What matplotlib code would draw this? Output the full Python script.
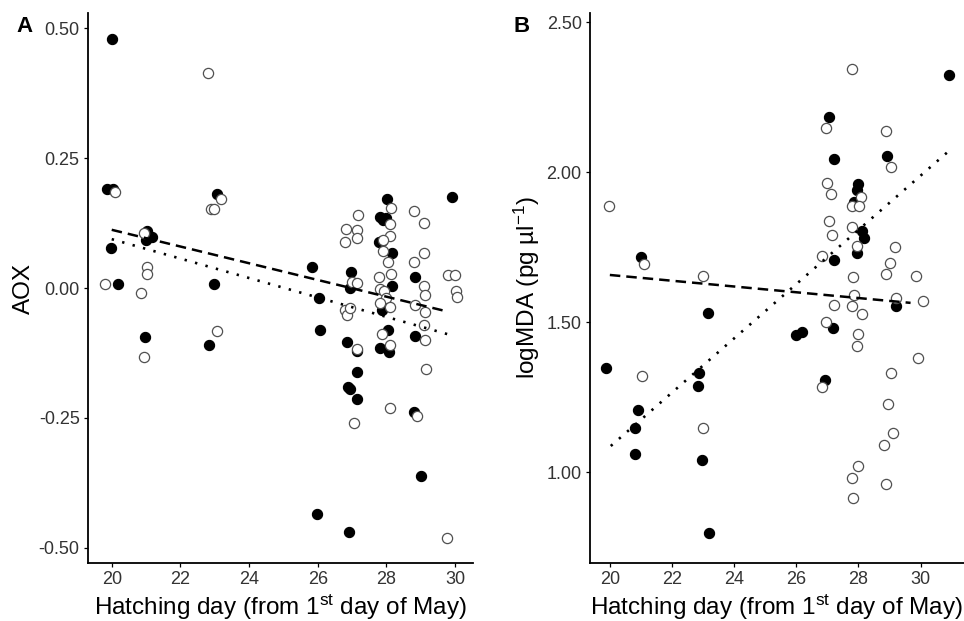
import matplotlib
matplotlib.use("Agg")
import matplotlib.pyplot as plt
from matplotlib.ticker import FormatStrFormatter

plt.rcParams['font.family'] = ['Liberation Sans', 'DejaVu Sans']
plt.rcParams['mathtext.fontset'] = 'custom'
plt.rcParams['mathtext.rm'] = 'Liberation Sans'
plt.rcParams['mathtext.default'] = 'rm'

# ---- panel A: AOX vs hatching day ----
a_filled_x = [20.0, 19.85, 20.05, 19.98, 20.18, 21.03, 21.17, 21.0, 20.97, 23.06, 22.98, 22.83,
              28.01, 29.9, 27.82, 27.9, 28.0, 27.79, 27.86, 28.16, 25.84, 26.96, 28.83, 28.16,
              26.95, 26.03, 27.86, 26.07, 28.04, 28.83, 26.84, 27.13, 27.82, 28.06, 27.14,
              26.89, 26.94, 27.15, 28.79, 29.01, 25.99, 26.91]
a_filled_y = [0.48, 0.19, 0.19, 0.077, 0.008, 0.11, 0.098, 0.092, -0.095, 0.181, 0.007, -0.11,
              0.172, 0.176, 0.136, 0.131, 0.134, 0.089, 0.09, 0.068, 0.041, 0.03, 0.021, 0.004,
              0.0, -0.019, -0.042, -0.08, -0.08, -0.092, -0.103, -0.122, -0.116, -0.124, -0.162,
              -0.19, -0.194, -0.213, -0.239, -0.362, -0.435, -0.47]
a_open_x = [20.1, 19.8, 20.94, 21.03, 21.03, 20.85, 20.94, 22.8, 23.18, 22.9, 22.97, 23.06,
            28.14, 28.81, 29.08, 27.16, 26.82, 27.14, 26.78, 27.15, 28.09, 28.1, 27.91, 27.91,
            28.04, 29.1, 28.79, 27.79, 28.13, 29.79, 30.0, 26.99, 27.15, 29.08, 29.13, 30.03,
            30.05, 27.82, 27.93, 27.99, 27.82, 28.1, 28.83, 29.12, 26.8, 26.84, 26.94, 29.08,
            27.86, 29.13, 27.15, 28.09, 29.16, 28.1, 28.88, 27.04, 29.76]
a_open_y = [0.185, 0.008, 0.105, 0.04, 0.027, -0.01, -0.133, 0.414, 0.171, 0.152, 0.152, -0.083,
            0.153, 0.148, 0.126, 0.14, 0.113, 0.112, 0.089, 0.096, 0.124, 0.1, 0.092, 0.071,
            0.051, 0.068, 0.051, 0.021, 0.027, 0.026, 0.026, 0.012, 0.009, 0.003, -0.013, -0.005,
            -0.018, -0.001, -0.006, -0.02, -0.028, -0.036, -0.033, -0.046, -0.042, -0.052, -0.039, -0.071,
            -0.089, -0.1, -0.117, -0.11, -0.156, -0.23, -0.247, -0.26, -0.481]
a_dashed_x = [20.0, 29.76]
a_dashed_y = [0.112, -0.045]
a_dotted_x = [20.0, 29.95]
a_dotted_y = [0.094, -0.092]

# ---- panel B: logMDA vs hatching day ----
b_filled_x = [20.99, 23.15, 30.91, 27.06, 27.2, 28.91, 28.0, 27.95, 27.86, 28.11, 28.18, 27.97,
              27.2, 29.2, 27.19, 25.99, 26.18, 19.89, 22.86, 22.83, 26.92, 20.91, 20.82, 20.82,
              22.96, 23.18]
b_filled_y = [1.718, 1.531, 2.323, 2.182, 2.043, 2.053, 1.959, 1.94, 1.901, 1.803, 1.781, 1.729,
              1.707, 1.553, 1.481, 1.457, 1.466, 1.348, 1.331, 1.287, 1.307, 1.207, 1.148, 1.059,
              1.04, 0.796]
b_open_x = [19.98, 21.1, 22.99, 27.81, 26.95, 28.88, 29.05, 26.98, 27.13, 28.08, 27.81, 28.02,
            27.06, 27.16, 27.81, 27.97, 29.17, 26.84, 29.01, 27.84, 28.88, 29.87, 27.86, 29.2,
            30.08, 27.2, 27.81, 28.13, 26.95, 27.99, 27.97, 29.92, 21.04, 29.06, 26.84, 28.96,
            22.99, 29.12, 28.82, 27.99, 27.81, 28.88, 27.84]
b_open_y = [1.887, 1.692, 1.653, 2.343, 2.146, 2.137, 2.018, 1.964, 1.927, 1.918, 1.887, 1.887,
            1.837, 1.79, 1.816, 1.753, 1.749, 1.72, 1.696, 1.649, 1.659, 1.654, 1.59, 1.581,
            1.57, 1.557, 1.553, 1.527, 1.499, 1.459, 1.42, 1.381, 1.321, 1.329, 1.284, 1.226,
            1.148, 1.131, 1.09, 1.021, 0.979, 0.959, 0.914]
b_dashed_x = [20.0, 29.68]
b_dashed_y = [1.657, 1.564]
b_dotted_x = [20.03, 30.91]
b_dotted_y = [1.087, 2.07]

x_ticks = [20, 22, 24, 26, 28, 30]
a_yticks = [-0.50, -0.25, 0.00, 0.25, 0.50]
b_yticks = [1.00, 1.50, 2.00, 2.50]

x_label = 'Hatching day (from 1$^{\\mathrm{st}}$ day of May)'

fig = plt.figure(figsize=(9.64, 6.21), dpi=100)
ax_a = fig.add_axes([0.0913, 0.0934, 0.3994, 0.8856])
ax_b = fig.add_axes([0.612, 0.0934, 0.388, 0.8856])


def style_panel(ax):
    for side in ['top', 'right']:
        ax.spines[side].set_visible(False)
    for side in ['left', 'bottom']:
        ax.spines[side].set_linewidth(1.3)
        ax.spines[side].set_color('black')
    ax.tick_params(direction='out', length=3, width=0.9, colors='black',
                   labelcolor='#333333', labelsize=13, pad=3)
    ax.set_xticks(x_ticks)
    ax.yaxis.set_major_formatter(FormatStrFormatter('%.2f'))


def draw_points(ax, fx, fy, ox, oy):
    ax.scatter(fx, fy, s=54, c='black', edgecolors='black', linewidths=0.8, zorder=3)
    ax.scatter(ox, oy, s=54, c='white', edgecolors='#505050', linewidths=0.9, zorder=4)


# panel A
draw_points(ax_a, a_filled_x, a_filled_y, a_open_x, a_open_y)
ax_a.plot(a_dashed_x, a_dashed_y, color='black', lw=1.8, linestyle=(0, (4.2, 2.4)), zorder=5)
ax_a.plot(a_dotted_x, a_dotted_y, color='black', lw=1.9, linestyle=(0, (0.9, 3.2)), zorder=5)
ax_a.set_xlim(19.31, 30.52)
ax_a.set_ylim(-0.529, 0.529)
ax_a.set_yticks(a_yticks)
style_panel(ax_a)
ax_a.set_xlabel(x_label, fontsize=17.5, labelpad=3)
ax_a.set_ylabel('AOX', fontsize=17.5, labelpad=3)

# panel B
draw_points(ax_b, b_filled_x, b_filled_y, b_open_x, b_open_y)
ax_b.plot(b_dashed_x, b_dashed_y, color='black', lw=1.8, linestyle=(0, (4.2, 2.4)), zorder=5)
ax_b.plot(b_dotted_x, b_dotted_y, color='black', lw=1.9, linestyle=(0, (0.9, 3.2)), zorder=5)
ax_b.set_xlim(19.36, 31.4)
ax_b.set_ylim(0.697, 2.53)
ax_b.set_yticks(b_yticks)
style_panel(ax_b)
ax_b.set_xlabel(x_label, fontsize=17.5, labelpad=3)
ax_b.set_ylabel('logMDA (pg µl$^{-1}$)', fontsize=17.5, labelpad=3)

fig.text(0.017, 0.975, 'A', fontsize=16, fontweight='bold', va='top', ha='left')
fig.text(0.533, 0.975, 'B', fontsize=16, fontweight='bold', va='top', ha='left')

fig.savefig('out.png', dpi=100)
